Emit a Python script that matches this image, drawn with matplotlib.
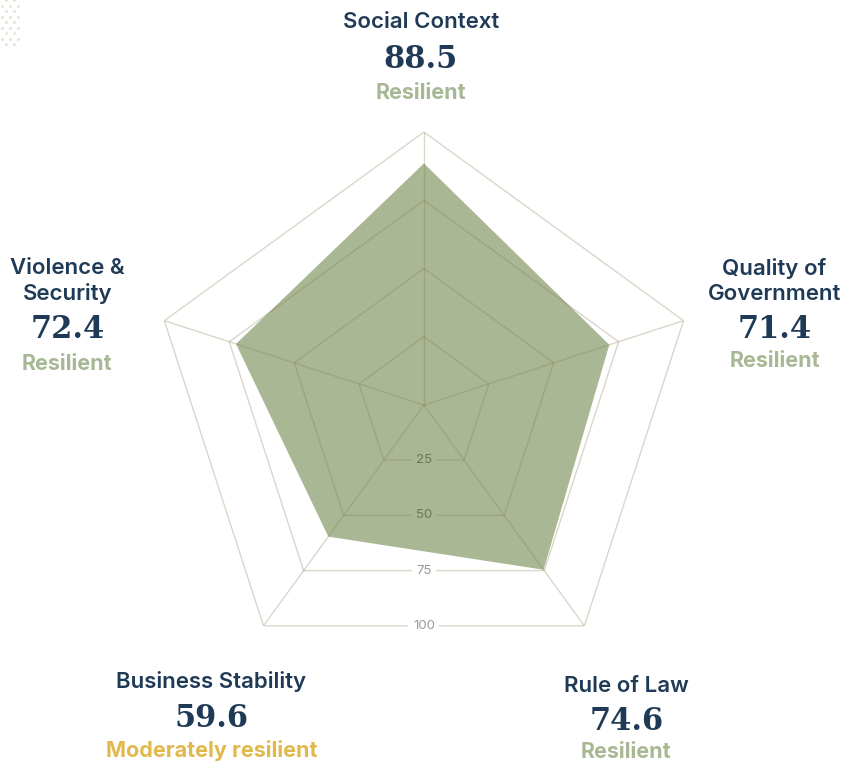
import numpy as np
import matplotlib
matplotlib.use("Agg")
import matplotlib.pyplot as plt

categories = ["Social Context", "Quality of\nGovernment", "Rule of Law",
              "Business Stability", "Violence &\nSecurity"]
scores = [88.5, 71.4, 74.6, 59.6, 72.4]
ratings = ["Resilient", "Resilient", "Resilient", "Moderately resilient", "Resilient"]
ring_values = [25, 50, 75, 100]

NAVY = "#1f3a56"
FILL = "#a9b794"
GRID = (0.55, 0.47, 0.30, 0.30)
TICK = (0.22, 0.20, 0.14, 0.50)
RATING_COLORS = {"Resilient": "#a8b894", "Moderately resilient": "#e0b84b"}

# label placement around each vertex (pixel offsets: title, score, rating)
offsets = [
    ((-3, 110), (-3, 73), (-3, 39)),
    ((91, 40), (91, -9), (91, -40)),
    ((42, -60), (42, -96), (42, -126)),
    ((-52, -56), (-52, -93), (-52, -125)),
    ((-97, 40), (-97, -9), (-97, -43)),
]

fig = plt.figure(figsize=(8.53, 7.63), dpi=100)
fig.patch.set_facecolor("white")

# dotted corner decoration
deco = fig.add_axes([0, 0, 1, 1], zorder=0)
deco.set_xlim(0, 853)
deco.set_ylim(763, 0)
deco.axis("off")
dx, dy = [], []
for j in range(9):
    y = j * 5.5
    xs = [6, 14.3] if j % 2 == 0 else [1.7, 10, 18.3]
    for x in xs:
        dx.append(x)
        dy.append(y)
deco.scatter(dx, dy, s=4, color="#e6dfd2", marker="o", linewidths=0)

ax = fig.add_axes([0.177, 0.1114, 0.640, 0.7156], polar=True, zorder=1)
ax.set_theta_zero_location("N")
ax.set_theta_direction(-1)
ax.set_ylim(0, 100)
ax.axis("off")

n = len(categories)
angles = np.linspace(0, 2 * np.pi, n, endpoint=False)
closed = np.append(angles, angles[0])

# score polygon
vals = np.append(scores, scores[0])
ax.fill(closed, vals, color=FILL, zorder=2, linewidth=0)

# pentagon rings and spokes on top of the fill
for r in ring_values:
    ax.plot(closed, [r] * (n + 1), color=GRID, linewidth=1, zorder=3)
for a in angles:
    ax.plot([a, a], [0, 100], color=GRID, linewidth=1, zorder=3)

# radius of the score polygon straight down (between Rule of Law and Business Stability)
r1, r2 = scores[2], scores[3]
t = np.pi / 5
down_r = r1 * r2 * np.sin(2 * t) / (r1 * np.sin(t) + r2 * np.sin(t))

for r in ring_values:
    rr = r * np.cos(np.pi / 5)
    bg = FILL if rr < down_r else "white"
    ax.text(np.pi, rr, str(r), ha="center", va="center", fontsize=9.5,
            family="Inter", color=TICK, zorder=4,
            bbox=dict(boxstyle="square,pad=0.35", fc=bg, ec="none"))

for a, cat, sc, rating, off in zip(angles, categories, scores, ratings, offsets):
    ax.annotate(cat, xy=(a, 100), xytext=off[0], textcoords="offset pixels",
                ha="center", va="center", fontsize=16, family="Inter",
                fontweight="semibold", color=NAVY, linespacing=1.3,
                annotation_clip=False)
    ax.annotate(f"{sc:.1f}", xy=(a, 100), xytext=off[1], textcoords="offset pixels",
                ha="center", va="center", fontsize=22, family="DejaVu Serif",
                fontweight="bold", color=NAVY, annotation_clip=False)
    ax.annotate(rating, xy=(a, 100), xytext=off[2], textcoords="offset pixels",
                ha="center", va="center", fontsize=15.5, family="Inter",
                fontweight="bold", color=RATING_COLORS[rating],
                annotation_clip=False)

fig.savefig("out.png", dpi=100)
